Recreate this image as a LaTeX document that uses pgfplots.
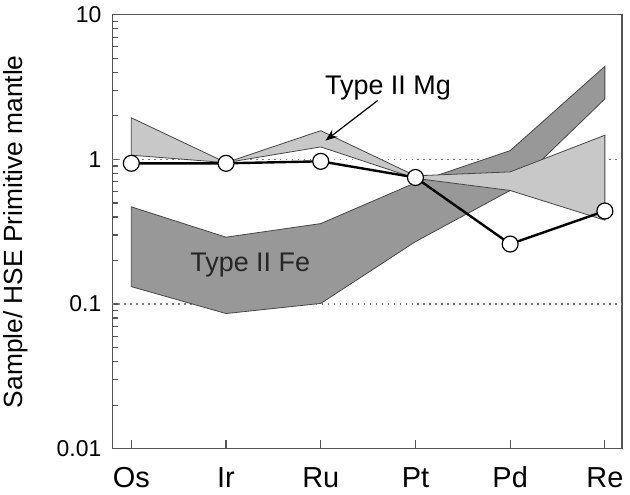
\documentclass[border=0pt]{standalone}
\usepackage{fontspec}
\setmainfont{Liberation Sans}
\usepackage{pgfplots}
\pgfplotsset{compat=1.18}
\usetikzlibrary{arrows.meta}

\definecolor{bandlight}{RGB}{200,200,200}
\definecolor{banddark}{RGB}{152,152,152}
\definecolor{edgegray}{RGB}{70,70,70}
\definecolor{axisgray}{RGB}{85,85,85}

\begin{document}
\begin{tikzpicture}
\begin{axis}[
    scale only axis,
    width=255.5pt, height=217.6pt,
    ymode=log,
    ymin=0.01, ymax=10,
    xmin=-0.2, xmax=5.18,
    xtick={0,1,2,3,4,5},
    xticklabels={Os,Ir,Ru,Pt,Pd,Re},
    ytick={0.01,0.1,1,10},
    yticklabels={0.01,0.1,1,10},
    minor ytick={0.02,0.03,0.04,0.05,0.06,0.07,0.08,0.09,
                 0.2,0.3,0.4,0.5,0.6,0.7,0.8,0.9,
                 2,3,4,5,6,7,8,9},
    tick pos=left,
    tick align=inside,
    major tick length=3.5pt,
    minor tick length=3pt,
    xtick style={/pgfplots/major tick length=4.5pt},
    every tick/.style={axisgray, line width=0.6pt},
    axis line style={axisgray, line width=0.7pt},
    /pgf/number format/assume math mode=true,
    xticklabel style={font=\fontsize{14.5}{16}\selectfont, anchor=base, yshift=-19.4pt},
    yticklabel style={font=\fontsize{11.5}{13}\selectfont, xshift=-2pt},
    ylabel={Sample/ HSE Primitive mantle},
    ylabel style={font=\fontsize{13.2}{15}\selectfont, at={(axis description cs:0,0.5)},
                  anchor=south, inner sep=0pt, yshift=42pt},
]

% reference lines
\addplot[gray, line width=0.6pt, dash pattern=on 0.8pt off 2.2pt] coordinates {(-0.2,1) (5.18,1)};
\addplot[gray, line width=0.6pt, dash pattern=on 0.8pt off 2.2pt] coordinates {(-0.2,0.1) (5.18,0.1)};

% Type II Fe band (upper Os->Re, lower Re->Os)
\addplot[fill=banddark, draw=edgegray, line width=0.4pt] coordinates {
    (0,0.47) (1,0.29) (2,0.36) (3,0.69) (4,1.15) (5,4.40)
    (5,2.62) (4,0.61) (3,0.27) (2,0.101) (1,0.086) (0,0.132)
} -- cycle;

% Type II Mg band
\addplot[fill=bandlight, draw=edgegray, line width=0.4pt] coordinates {
    (0,1.94) (1,0.95) (2,1.58) (3,0.77) (4,0.82) (5,1.47)
    (5,0.38) (4,0.61) (3,0.74) (2,1.22) (1,0.95) (0,1.07)
} -- cycle;

% sample
\addplot[black, line width=1.2pt, mark=*, mark size=4pt,
         mark options={fill=white, draw=black, line width=0.6pt}] coordinates {
    (0,0.94) (1,0.94) (2,0.97) (3,0.75) (4,0.26) (5,0.44)
};

\node[font=\fontsize{13.5}{15}\selectfont] at (axis cs:2.71,3.14) {Type II Mg};
\draw[black, line width=0.6pt, -{Stealth[length=6pt, width=4.5pt]}]
    (axis cs:2.60,2.55) -- (axis cs:2.05,1.35);
\node[font=\fontsize{13.5}{15}\selectfont, text=black!85] at (axis cs:1.256,0.186) {Type II Fe};

\end{axis}
\path (current axis.south west) ++(-56.35pt,-21.85pt);
\path (current axis.north east) ++(3.2pt,7pt);
\end{tikzpicture}
\end{document}
